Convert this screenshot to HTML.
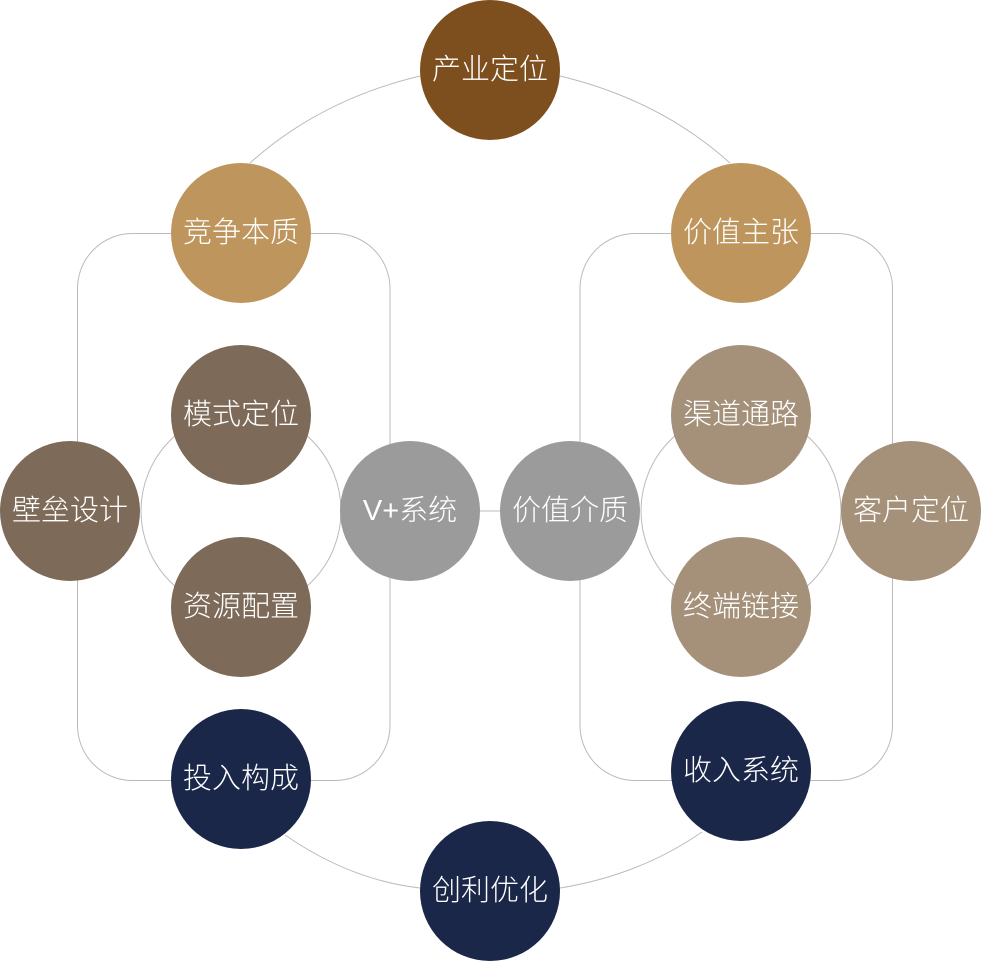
<!DOCTYPE html>
<html><head><meta charset="utf-8"><style>
html,body{margin:0;padding:0;background:#fff;}
svg text{font-family:"Liberation Sans","Noto Sans CJK SC",sans-serif;font-size:29px;fill:#fff;text-anchor:middle;dominant-baseline:central;font-weight:300;}
</style></head><body>
<svg width="982" height="962" viewBox="0 0 982 962" xmlns="http://www.w3.org/2000/svg">
<g fill="none" stroke="#bbb" stroke-width="1">
<rect x="77.5" y="233.5" width="312.5" height="547" rx="55"/>
<rect x="580" y="233.5" width="312.5" height="547" rx="55"/>
<circle cx="241" cy="511" r="100"/>
<circle cx="741" cy="511" r="100"/>
<line x1="470" y1="511" x2="510" y2="511"/>
<path d="M420 76 Q320 100 250 163"/>
<path d="M560 76 Q660 100 730 163"/>
<path d="M285 835 Q350 880 420 888"/>
<path d="M560 888 Q640 875 702 832"/>
</g>
<circle cx="490" cy="70" r="70" fill="#7e4f1e"/><text x="490" y="70">产业定位</text>
<circle cx="241" cy="233" r="70" fill="#be955c"/><text x="241" y="233">竞争本质</text>
<circle cx="741" cy="233" r="70" fill="#be955c"/><text x="741" y="233">价值主张</text>
<circle cx="241" cy="415" r="70" fill="#7d6a59"/><text x="241" y="415">模式定位</text>
<circle cx="241" cy="607" r="70" fill="#7d6a59"/><text x="241" y="607">资源配置</text>
<circle cx="70" cy="511" r="70" fill="#7d6a59"/><text x="70" y="511">壁垒设计</text>
<circle cx="410" cy="511" r="70" fill="#9b9b9b"/><text x="410" y="511">V+系统</text>
<circle cx="570" cy="511" r="70" fill="#9b9b9b"/><text x="570" y="511">价值介质</text>
<circle cx="741" cy="415" r="70" fill="#a59179"/><text x="741" y="415">渠道通路</text>
<circle cx="741" cy="607" r="70" fill="#a59179"/><text x="741" y="607">终端链接</text>
<circle cx="911" cy="511" r="70" fill="#a59179"/><text x="911" y="511">客户定位</text>
<circle cx="241" cy="779" r="70" fill="#1a2749"/><text x="241" y="779">投入构成</text>
<circle cx="741" cy="771" r="70" fill="#1a2749"/><text x="741" y="771">收入系统</text>
<circle cx="490" cy="891" r="70" fill="#1a2749"/><text x="490" y="891">创利优化</text>
</svg>
</body></html>
